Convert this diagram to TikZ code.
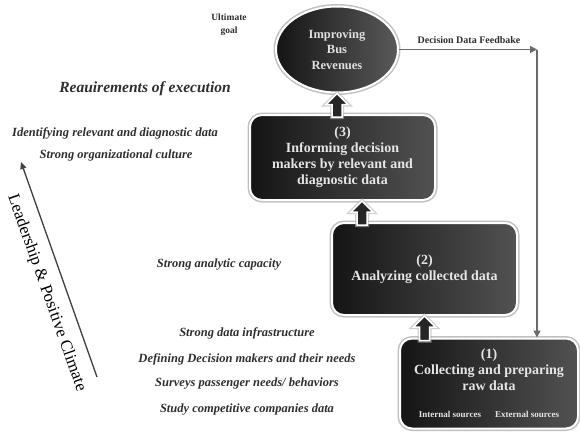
\documentclass[tikz,border=0pt]{standalone}
\usepackage{fontspec}
\setmainfont{Liberation Serif}
\usetikzlibrary{calc,arrows.meta,shapes.geometric}
\definecolor{txt}{HTML}{2E2E2E}
\definecolor{fbc}{HTML}{6A6A6A}
\newcommand\blockup[2]{%
  \path let \p1=(#1), \p2=(#2) in [barrow]
    ({\x1-5pt},{\y1-3pt}) -- ({\x1-5pt},{\y2-11pt}) -- ({\x1-11pt},{\y2-11pt}) -- (\x1,\y2)
    -- ({\x1+11pt},{\y2-11pt}) -- ({\x1+5pt},{\y2-11pt}) -- ({\x1+5pt},{\y1-3pt}) -- cycle;}
\begin{document}
\begin{tikzpicture}[x=1pt,y=-1pt,
  box/.style={rounded corners=12pt, draw=white, line width=2pt,
    left color=black!92, right color=black!68,
    preaction={draw=black!35, line width=5pt, opacity=.7},
    text=white!90!black, align=center, inner sep=0pt,
    font=\bfseries\fontsize{14}{16}\selectfont},
  goal/.style={ellipse, draw=white, line width=2pt,
    left color=black!92, right color=black!65,
    preaction={draw=black!35, line width=5pt, opacity=.7},
    text=white!88!black, align=center, inner sep=0pt,
    font=\bfseries\fontsize{12.5}{15.5}\selectfont},
  barrow/.style={fill=black!85, draw=white, line width=1.5pt,
    preaction={draw=black!30, line width=4pt, opacity=.6}},
  req/.style={text=txt, font=\bfseries\itshape\fontsize{12.5}{15}\selectfont},
  small/.style={text=txt, font=\bfseries\fontsize{9.5}{13}\selectfont, align=center},
  fb/.style={draw=fbc, line width=1.5pt, -{Triangle[length=7pt,width=7pt]}}
]
\useasboundingbox (0,0) rectangle (580,431);
\fill[white] (0,0) rectangle (580,431);

% goal ellipse
\node[goal, minimum width=122pt, minimum height=86pt] (e) at (337,49.5)
  {Improving\\Bus\\Revenues};

% boxes
\node[box, minimum width=185pt, minimum height=85pt] (b3) at (342.5,157.5)
  {(3)\\Informing decision\\makers by relevant and\\diagnostic data};
\node[box, minimum width=185pt, minimum height=92pt] (b2) at (424.5,269)
  {(2)\\Analyzing collected data};
\node[box, minimum width=178pt, minimum height=90pt] (b1) at (489,383.5)
  {(1)\\Collecting and preparing\\raw data\\[11pt]%
   {\fontsize{9}{10}\selectfont Internal sources\hspace{14pt}External sources}};

% block arrows
\coordinate (a2x) at (362,0);
\blockup{b3.north -| e.south}{e.south}
\blockup{b2.north -| a2x}{b3.south -| a2x}
\blockup{b1.north -| b2.south}{b2.south}

% feedback
\coordinate (fx) at (537,0);
\coordinate (fc) at (e.east -| fx);
\draw[fb] (e.east) -- (fc);
\draw[fb] (fc) -- (b1.north -| fx);
\node[small, font=\bfseries\fontsize{10}{12}\selectfont] (fbl) at (469,40) {Decision Data Feedbake};

% left texts
\node[small] (ug) at (229,24.5) {Ultimate\\goal};
\node[req, font=\bfseries\itshape\fontsize{15.5}{18}\selectfont] (re) at (145,89) {Reauirements of execution};
\node[req] (r1) at (115,133) {Identifying relevant and diagnostic data};
\node[req] (r2) at (116,155) {Strong organizational culture};
\node[req] (r3) at (219,265) {Strong analytic capacity};
\node[req] (r4) at (247,333) {Strong data infrastructure};
\node[req] (r5) at (247,359) {Defining Decision makers and their needs};
\node[req] (r6) at (247,384) {Surveys passenger needs/ behaviors};
\node[req] (r7) at (247,410) {Study competitive companies data};

% leadership arrow
\coordinate (la) at (21,162);
\coordinate (lb) at (97,377);
\draw[draw=black!75, line width=1.3pt, -{Triangle[length=7pt,width=6pt]}] (lb) -- (la);
\node[text=black, font=\fontsize{16.8}{18}\selectfont, rotate=-70.5, inner sep=0pt] (lead) at (46.5,293)
  {Leadership \& Positive Climate};
\end{tikzpicture}
\end{document}
